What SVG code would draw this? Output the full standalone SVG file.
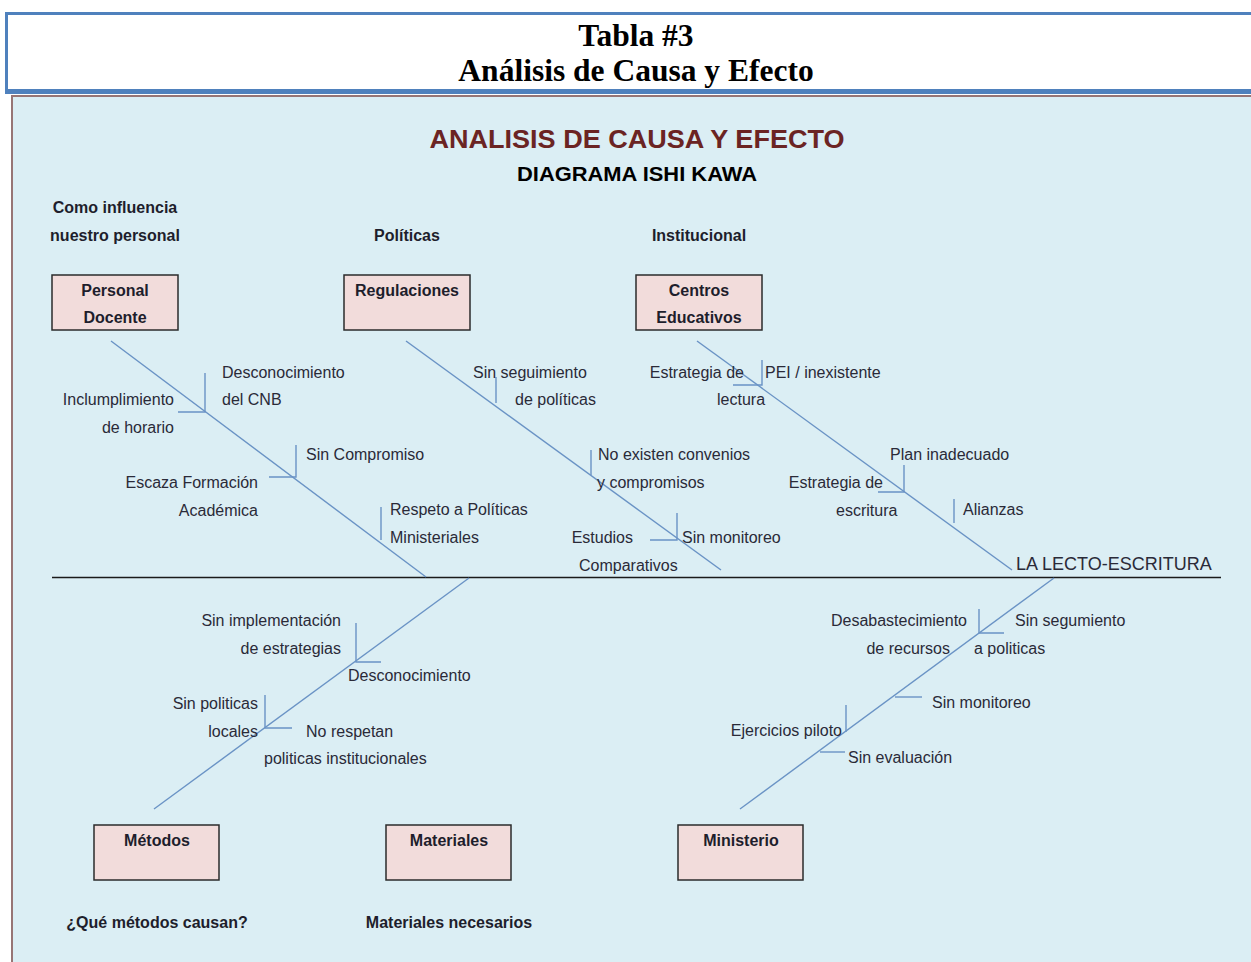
<svg xmlns="http://www.w3.org/2000/svg" width="1251" height="962" viewBox="0 0 1251 962">
<style>
.hdr{font-family:"Liberation Serif",serif;font-weight:bold;font-size:31.5px;fill:#000;text-anchor:middle}
.lbl{font-family:"Liberation Sans",Arial,sans-serif;font-size:16px;fill:#2a2a38}
.bld{font-family:"Liberation Sans",Arial,sans-serif;font-size:16px;font-weight:bold;fill:#1e1e2c;text-anchor:middle}
.box{fill:#f2dcdb;stroke:#2b2b2b;stroke-width:1.5}
.bone{stroke:#6a93c5;stroke-width:1.4;fill:none}
.r{text-anchor:end}
</style>
<rect x="0" y="0" width="1251" height="962" fill="#ffffff"/>
<g id="header">
<path d="M1251 13.5H6.5V91.5H1251" fill="none" stroke="#4f81bd" stroke-width="3"/>
<rect x="5" y="89" width="1246" height="5" fill="#4f81bd"/>
<text class="hdr" x="636" y="46">Tabla #3</text>
<text class="hdr" x="636" y="81">Análisis de Causa y Efecto</text>
</g>
<g id="panel">
<rect x="12" y="96" width="1245" height="870" fill="#dbeef4" stroke="#977575" stroke-width="2"/>
<text x="637" y="148" font-family="Liberation Sans,Arial,sans-serif" font-weight="bold" font-size="25.5" fill="#6b2423" text-anchor="middle" textLength="415" lengthAdjust="spacingAndGlyphs">ANALISIS DE CAUSA Y EFECTO</text>
<text x="637" y="181" font-family="Liberation Sans,Arial,sans-serif" font-weight="bold" font-size="20" fill="#000" text-anchor="middle" textLength="240" lengthAdjust="spacingAndGlyphs">DIAGRAMA ISHI KAWA</text>
</g>
<g id="connectors">
<line x1="52" y1="577.5" x2="1221" y2="577.5" stroke="#1a1a1a" stroke-width="1.6"/>
<line class="bone" x1="111" y1="341" x2="426" y2="577"/>
<line class="bone" x1="406" y1="341" x2="721" y2="570"/>
<line class="bone" x1="697" y1="341" x2="1012" y2="570"/>
<line class="bone" x1="469" y1="578" x2="154" y2="809"/>
<line class="bone" x1="1054" y1="578" x2="740" y2="809"/>
<path class="bone" d="M205 373V412H178"/>
<path class="bone" d="M296 445V477H269"/>
<path class="bone" d="M381 507V540"/>
<path class="bone" d="M496 377V403"/>
<path class="bone" d="M591 450V475"/>
<path class="bone" d="M677 513V540H650"/>
<path class="bone" d="M762 360V385H733"/>
<path class="bone" d="M904 465V492H878"/>
<path class="bone" d="M954 499V523"/>
<path class="bone" d="M356 623V662H381"/>
<path class="bone" d="M265 695V728H292"/>
<path class="bone" d="M979 609V633H1004"/>
<path class="bone" d="M895 697H922"/>
<path class="bone" d="M846 705V732"/>
<path class="bone" d="M820 752H845"/>
</g>
<g id="cat-personal">
<text class="bld" x="115" y="213">Como influencia</text>
<text class="bld" x="115" y="241">nuestro personal</text>
<rect class="box" x="52" y="275" width="126" height="55"/>
<text class="bld" x="115" y="296">Personal</text>
<text class="bld" x="115" y="323">Docente</text>
</g>
<g id="cat-regulaciones">
<text class="bld" x="407" y="241">Políticas</text>
<rect class="box" x="344" y="275" width="126" height="55"/>
<text class="bld" x="407" y="296">Regulaciones</text>
</g>
<g id="cat-centros">
<text class="bld" x="699" y="241">Institucional</text>
<rect class="box" x="636" y="275" width="126" height="55"/>
<text class="bld" x="699" y="296">Centros</text>
<text class="bld" x="699" y="323">Educativos</text>
</g>
<g id="cat-metodos">
<rect class="box" x="94" y="825" width="125" height="55"/>
<text class="bld" x="157" y="846">Métodos</text>
<text class="bld" x="157" y="928">¿Qué métodos causan?</text>
</g>
<g id="cat-materiales">
<rect class="box" x="386" y="825" width="125" height="55"/>
<text class="bld" x="449" y="846">Materiales</text>
<text class="bld" x="449" y="928">Materiales necesarios</text>
</g>
<g id="cat-ministerio">
<rect class="box" x="678" y="825" width="125" height="55"/>
<text class="bld" x="741" y="846">Ministerio</text>
</g>
<g id="effect">
<text x="1016" y="570" font-family="Liberation Sans,Arial,sans-serif" font-size="18" fill="#2a2a38">LA LECTO-ESCRITURA</text>
</g>
<g id="causes-personal">
<text class="lbl" x="222" y="378">Desconocimiento</text>
<text class="lbl" x="222" y="405">del CNB</text>
<text class="lbl r" x="174" y="405">Inclumplimiento</text>
<text class="lbl r" x="174" y="433">de horario</text>
<text class="lbl" x="306" y="460">Sin Compromiso</text>
<text class="lbl r" x="258" y="488">Escaza Formación</text>
<text class="lbl r" x="258" y="516">Académica</text>
<text class="lbl" x="390" y="515">Respeto a Políticas</text>
<text class="lbl" x="390" y="543">Ministeriales</text>
</g>
<g id="causes-regulaciones">
<text class="lbl" x="473" y="378">Sin seguimiento</text>
<text class="lbl" x="515" y="405">de políticas</text>
<text class="lbl" x="598" y="460">No existen convenios</text>
<text class="lbl" x="597" y="488">y compromisos</text>
<text class="lbl" x="682" y="543">Sin monitoreo</text>
<text class="lbl r" x="633" y="543">Estudios</text>
<text class="lbl" x="579" y="571">Comparativos</text>
</g>
<g id="causes-centros">
<text class="lbl r" x="744" y="378">Estrategia de</text>
<text class="lbl" x="717" y="405">lectura</text>
<text class="lbl" x="765" y="378">PEI / inexistente</text>
<text class="lbl" x="890" y="460">Plan inadecuado</text>
<text class="lbl r" x="883" y="488">Estrategia de</text>
<text class="lbl" x="836" y="516">escritura</text>
<text class="lbl" x="963" y="515">Alianzas</text>
</g>
<g id="causes-metodos">
<text class="lbl r" x="341" y="626">Sin implementación</text>
<text class="lbl r" x="341" y="654">de estrategias</text>
<text class="lbl" x="348" y="681">Desconocimiento</text>
<text class="lbl r" x="258" y="709">Sin politicas</text>
<text class="lbl r" x="258" y="737">locales</text>
<text class="lbl" x="306" y="737">No respetan</text>
<text class="lbl" x="264" y="764">politicas institucionales</text>
</g>
<g id="causes-ministerio">
<text class="lbl r" x="967" y="626">Desabastecimiento</text>
<text class="lbl r" x="950" y="654">de recursos</text>
<text class="lbl" x="1015" y="626">Sin segumiento</text>
<text class="lbl" x="974" y="654">a politicas</text>
<text class="lbl" x="932" y="708">Sin monitoreo</text>
<text class="lbl r" x="842" y="736">Ejercicios piloto</text>
<text class="lbl" x="848" y="763">Sin evaluación</text>
</g>
</svg>
